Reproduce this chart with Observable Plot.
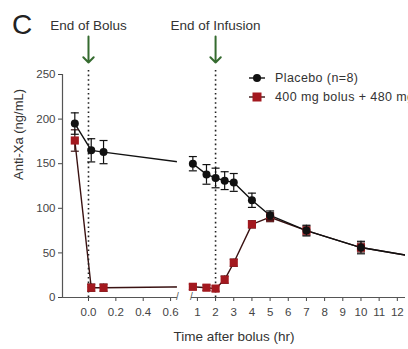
<!DOCTYPE html>
<html>
<head>
<meta charset="utf-8">
<script src="https://cdn.jsdelivr.net/npm/d3@7"></script>
<script src="https://cdn.jsdelivr.net/npm/@observablehq/plot@0.6"></script>
<style>
  body { margin: 0; background: #fff; font-family: "Liberation Sans", Arial, sans-serif; }
  #wrap { position: relative; width: 408px; height: 349px; overflow: hidden; }
  #panel { position: absolute; left: 12px; top: 11px; font-size: 28px; line-height: 28px; color: #222; }
  #legend { position: absolute; left: 247px; top: 68px; font-size: 12.5px; letter-spacing: 0.4px; color: #333; white-space: nowrap; }
  .row { display: flex; align-items: center; height: 19px; }
  .sw { width: 20px; height: 10px; margin-right: 8px; }
</style>
</head>
<body>
<div id="wrap">
  <div id="chart"></div>
  <div id="panel">C</div>
  <div id="legend"></div>
</div>
<script>
// ---- data ----
const times = [-0.1, 0.02, 0.11, 0.75, 1.5, 2, 2.5, 3, 4, 5, 7, 10, 24];
const placebo = [195, 165, 163, 150, 138, 134, 131, 129, 109, 92, 75, 56, 8];
const placeboSE = [12, 13, 13, 8, 11, 11, 10, 10, 8, 5, 6, 7, 0];
const andexanet = [176, 11, 11, 12, 11, 10, 20, 39, 82, 90, 75, 56, 8];
const andexanetSE = [12, 4, 4, 3, 3, 3, 4, 4, 4, 5, 5, 5, 0];
const seriesNames = ["Placebo (n=8)", "400 mg bolus + 480 mg infusion"];
const seriesColors = ["#111111", "#a3191f"];
const lineColors = ["#111111", "#3a1212"];
const eventTimes = [0, 2];
const eventLabels = ["End of Bolus", "End of Infusion"];
const leftTicks = [0, 0.2, 0.4, 0.6];
const leftTickLabels = ["0.0", "0.2", "0.4", "0.6"];
const rightTicks = [1, 2, 3, 4, 5, 6, 7, 8, 9, 10, 11, 12];
const rightTickLabels = ["1", "2", "3", "4", "5", "6", "7", "8", "9", "10", "11", "12"];
const yTicks = [0, 50, 100, 150, 200, 250];
const xTitle = "Time after bolus (hr)";
const yTitle = "Anti-Xa (ng/mL)";

// ---- broken x axis: two linear segments with a gap between ----
const T_MIN = -0.19, BREAK_LO = 0.65, BREAK_HI = 0.67, T_MAX = 12.45;
const LEFT_SPAN = 137, RIGHT_SPAN = 18.2, GAP = 14; // relative widths
const uLo = (BREAK_LO - T_MIN) * LEFT_SPAN;
const uHi = uLo + GAP;
const xu = t => t <= (BREAK_LO + BREAK_HI) / 2
  ? (t - T_MIN) * LEFT_SPAN
  : uHi + (t - BREAK_HI) * RIGHT_SPAN;

const rows = [];
times.forEach((t, i) => {
  rows.push({s: 0, t, u: xu(t), v: placebo[i], lo: placebo[i] - placeboSE[i], hi: placebo[i] + placeboSE[i], se: placeboSE[i]});
});
times.forEach((t, i) => {
  rows.push({s: 1, t, u: xu(t), v: andexanet[i], lo: andexanet[i] - andexanetSE[i], hi: andexanet[i] + andexanetSE[i], se: andexanetSE[i]});
});
const red = rows.filter(d => d.s === 1), blk = rows.filter(d => d.s === 0);
const events = eventTimes.map((t, i) => ({u: xu(t), label: eventLabels[i]}));

const tickU = [...leftTicks, ...rightTicks].map(xu);
const tickLab = [...leftTickLabels, ...rightTickLabels];
const labByU = new Map(tickU.map((u, i) => [Math.round(u * 100), tickLab[i]]));

const capSymbol = { draw(ctx, size) { const w = Math.sqrt(size / Math.PI); ctx.moveTo(-w, 0); ctx.lineTo(w, 0); } };

function seriesMarks(data, k) {
  const eb = data.filter(d => d.se > 0);
  return [
    Plot.ruleX(eb, {x: "u", y1: "lo", y2: "hi", stroke: lineColors[k], strokeWidth: 1.2, clip: true}),
    Plot.dot(eb, {x: "u", y: "hi", symbol: capSymbol, r: 4, stroke: lineColors[k], strokeWidth: 1.2, clip: true}),
    Plot.dot(eb, {x: "u", y: "lo", symbol: capSymbol, r: 4, stroke: lineColors[k], strokeWidth: 1.2, clip: true}),
    k === 0
      ? Plot.dot(data, {x: "u", y: "v", r: 4, fill: seriesColors[0], stroke: "none", clip: true})
      : Plot.dot(data, {x: "u", y: "v", symbol: "square", r: 4.6, fill: seriesColors[1], stroke: "none", clip: true})
  ];
}

const chart = Plot.plot({
  width: 408,
  height: 349,
  marginLeft: 62,
  marginRight: 3,
  marginTop: 74,
  marginBottom: 52,
  style: {fontFamily: "Liberation Sans, Arial, sans-serif", fontSize: "11.5px", color: "#444", background: "white"},
  x: {
    domain: [xu(T_MIN), xu(T_MAX)],
    ticks: tickU,
    tickFormat: u => labByU.get(Math.round(u * 100)),
    tickSize: 4,
    tickPadding: 6,
    label: null
  },
  y: {
    domain: [0, 250],
    ticks: yTicks,
    tickSize: 4,
    tickPadding: 3,
    label: null
  },
  marks: [
    // lines
    Plot.line(red, {x: "u", y: "v", stroke: lineColors[1], strokeWidth: 1.4, clip: true}),
    Plot.line(blk, {x: "u", y: "v", stroke: lineColors[0], strokeWidth: 1.4, clip: true}),
    // axis break gap
    Plot.rectY([0], {x1: () => uLo, x2: () => uHi, y1: () => 0, y2: () => 250, fill: "white", insetBottom: -12, insetTop: -2}),
    // event markers
    Plot.ruleX(events, {x: "u", stroke: "#222", strokeWidth: 1.6, strokeDasharray: "1.6,3", insetTop: -4}),
    Plot.vector(events, {x: "u", frameAnchor: "top", dy: -38, length: 26, rotate: 180, anchor: "start", stroke: "#356b2f", strokeWidth: 2}),
    Plot.text(events, {x: "u", frameAnchor: "top", dy: -54, text: "label", fontSize: 13.5, fill: "#333", style: "letter-spacing:0.3px"}),
    // series
    ...seriesMarks(red, 1),
    ...seriesMarks(blk, 0),
    // axis lines
    Plot.ruleX([T_MIN], {x: xu, y1: () => 0, y2: () => 250, stroke: "#555", strokeWidth: 1.2}),
    Plot.ruleY([0], {x1: () => xu(T_MIN), x2: () => uLo, stroke: "#555", strokeWidth: 1.2}),
    Plot.ruleY([0], {x1: () => uHi, x2: () => xu(T_MAX), stroke: "#555", strokeWidth: 1.2}),
    Plot.text([uLo, uHi], {x: d => d, y: () => 0, text: () => "/", fontSize: 10, fill: "#555", dy: -1}),
    // axis titles
    Plot.text([xTitle], {frameAnchor: "bottom", dy: 43, text: d => d, fontSize: 13.5, fill: "#333"}),
    Plot.text([yTitle], {frameAnchor: "left", dx: -44, dy: -6, rotate: -90, text: d => d, fontSize: 13, fill: "#333"})
  ]
});
document.getElementById("chart").appendChild(chart);

// legend
const leg = document.getElementById("legend");
seriesNames.forEach((name, k) => {
  const row = document.createElement("div");
  row.className = "row";
  const sw = k === 0
    ? `<svg class="sw" viewBox="0 0 20 10"><line x1="2" x2="18" y1="5" y2="5" stroke="${lineColors[0]}" stroke-width="1.4"/><circle cx="10" cy="5" r="4" fill="${seriesColors[0]}"/></svg>`
    : `<svg class="sw" viewBox="0 0 20 10"><line x1="2" x2="18" y1="5" y2="5" stroke="${lineColors[1]}" stroke-width="1.4"/><rect x="5.5" y="0.5" width="9" height="9" fill="${seriesColors[1]}"/></svg>`;
  row.innerHTML = sw + `<span>${name}</span>`;
  leg.appendChild(row);
});
</script>
</body>
</html>
